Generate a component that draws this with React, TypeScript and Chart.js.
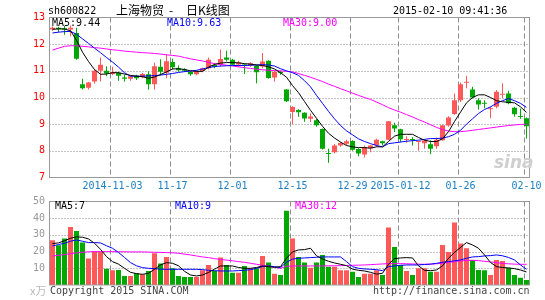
import React, { useEffect, useRef } from 'react';
import { Chart, registerables } from 'chart.js';
Chart.register(...registerables);

const dates: string[] = [
  '2014-10-20','2014-10-21','2014-10-22','2014-10-23','2014-10-24','2014-10-27','2014-10-28','2014-10-29','2014-10-30','2014-10-31',
  '2014-11-03','2014-11-04','2014-11-05','2014-11-06','2014-11-07','2014-11-10','2014-11-11','2014-11-12','2014-11-13','2014-11-14',
  '2014-11-17','2014-11-18','2014-11-19','2014-11-20','2014-11-21','2014-11-24','2014-11-25','2014-11-26','2014-11-27','2014-11-28',
  '2014-12-01','2014-12-02','2014-12-03','2014-12-04','2014-12-05','2014-12-08','2014-12-09','2014-12-10','2014-12-11','2014-12-12',
  '2014-12-15','2014-12-16','2014-12-17','2014-12-18','2014-12-19','2014-12-22','2014-12-23','2014-12-24','2014-12-25','2014-12-26',
  '2014-12-29','2014-12-30','2014-12-31','2015-01-05','2015-01-06','2015-01-07','2015-01-08','2015-01-09','2015-01-12','2015-01-13',
  '2015-01-14','2015-01-15','2015-01-16','2015-01-19','2015-01-20','2015-01-21','2015-01-22','2015-01-23','2015-01-26','2015-01-27',
  '2015-01-28','2015-01-29','2015-01-30','2015-02-02','2015-02-03','2015-02-04','2015-02-05','2015-02-06','2015-02-09','2015-02-10',
];

const tickDates: string[] = ['2014-11-03','2014-11-17','2014-12-01','2014-12-15','2014-12-29','2015-01-12','2015-01-26','2015-02-10'];
const tickTexts: string[] = ['2014-11-03','11-17','12-01','12-15','12-29','2015-01-12','01-26','02-10'];

const open: number[] = [
  12.55,12.62,12.60,12.55,12.42,10.50,10.37,10.60,11.00,11.00,
  10.88,10.93,10.75,10.70,10.82,10.76,10.87,10.50,11.15,10.93,
  11.33,11.10,11.05,10.96,10.87,10.99,11.10,11.22,11.23,11.50,
  11.42,11.24,11.23,11.20,11.19,11.16,11.38,10.75,10.97,10.30,
  9.46,9.53,9.43,9.20,9.15,8.82,7.92,7.95,8.20,8.27,
  8.37,8.07,7.86,8.10,8.22,8.36,8.42,8.96,8.81,8.41,
  8.44,8.33,8.28,8.25,8.17,8.40,8.95,9.38,9.90,10.55,
  10.30,9.90,9.80,9.56,9.65,10.10,10.15,9.62,9.30,9.22,
];
const close: number[] = [
  12.62,12.57,12.55,12.62,11.45,10.35,10.56,11.00,11.23,10.90,
  10.96,10.82,10.70,10.80,10.72,10.88,10.50,11.17,10.97,11.36,
  11.13,11.02,11.00,10.87,10.98,11.10,11.42,11.15,11.44,11.42,
  11.23,11.31,11.20,11.28,10.95,11.35,10.73,10.97,10.92,9.86,
  9.64,9.45,9.21,9.29,8.96,8.08,7.88,8.20,8.29,8.36,
  8.04,7.90,8.14,8.20,8.42,8.28,9.11,8.84,8.43,8.44,
  8.41,8.35,8.39,8.08,8.42,8.96,9.25,9.90,10.50,10.57,
  10.00,9.74,9.77,9.58,10.22,10.12,9.78,9.37,9.27,8.92,
];
const high: number[] = [
  12.66,12.65,12.68,12.70,12.62,10.70,10.58,11.05,11.50,11.17,
  11.15,10.96,10.85,10.83,10.85,10.92,10.98,11.30,11.43,11.62,
  11.45,11.20,11.10,10.98,11.00,11.12,11.50,11.28,11.80,11.75,
  11.45,11.38,11.27,11.32,11.22,11.67,11.40,11.00,11.00,10.32,
  9.67,9.56,9.45,9.40,9.20,8.84,8.08,8.26,8.32,8.42,
  8.40,8.10,8.20,8.22,8.45,8.38,9.12,9.05,8.83,8.55,
  8.52,8.36,8.42,8.40,8.50,8.98,9.30,10.15,10.56,10.82,
  10.40,9.97,9.90,9.65,10.28,10.53,10.25,9.65,9.59,9.25,
];
const low: number[] = [
  12.50,12.45,12.35,12.30,11.42,10.30,10.30,10.52,10.60,10.80,
  10.83,10.63,10.60,10.63,10.66,10.72,10.30,10.30,10.83,10.72,
  11.05,10.97,10.96,10.82,10.83,10.95,11.05,11.10,11.15,11.35,
  11.20,11.14,10.88,11.15,10.53,11.10,10.70,10.60,10.85,9.83,
  9.00,9.28,9.09,9.08,8.90,8.05,7.55,7.90,8.15,8.20,
  8.00,7.80,7.75,7.95,8.15,8.20,8.40,8.71,8.33,8.30,
  8.20,8.00,8.08,7.87,8.08,8.38,8.90,9.35,9.83,10.35,
  9.96,9.55,9.60,9.22,9.60,9.97,9.75,9.28,9.20,8.46,
];

const ma5: number[] = [
  12.56,12.57,12.57,12.50,12.15,11.70,11.35,11.05,10.87,10.88,
  10.93,10.93,10.88,10.83,10.80,10.78,10.72,10.77,10.86,10.96,
  11.07,11.08,11.05,11.00,10.98,10.98,11.14,11.24,11.29,11.31,
  11.31,11.30,11.27,11.25,11.22,11.20,11.15,11.07,10.93,10.76,
  10.45,10.18,9.85,9.52,9.22,8.92,8.66,8.48,8.33,8.20,
  8.15,8.12,8.12,8.10,8.15,8.15,8.35,8.55,8.62,8.62,
  8.62,8.50,8.40,8.35,8.35,8.45,8.72,9.10,9.45,9.80,
  10.00,10.10,10.10,10.00,9.88,9.84,9.82,9.80,9.65,9.44,
];
const ma10: number[] = [
  12.42,12.45,12.47,12.48,12.37,12.20,12.03,11.85,11.68,11.50,
  11.33,11.14,10.93,10.80,10.80,10.80,10.81,10.82,10.84,10.87,
  10.90,10.94,10.97,10.99,11.02,11.07,11.12,11.16,11.18,11.19,
  11.20,11.20,11.20,11.21,11.22,11.23,11.22,11.18,11.08,11.00,
  10.93,10.83,10.63,10.40,10.08,9.78,9.48,9.20,8.95,8.75,
  8.60,8.45,8.35,8.27,8.20,8.15,8.27,8.30,8.33,8.36,
  8.38,8.40,8.43,8.46,8.46,8.48,8.53,8.62,8.77,9.00,
  9.20,9.40,9.55,9.65,9.78,9.88,9.96,9.88,9.78,9.63,
];
const ma30: number[] = [
  11.78,11.85,11.92,11.94,11.94,11.92,11.90,11.87,11.85,11.82,
  11.79,11.77,11.74,11.72,11.70,11.68,11.67,11.65,11.63,11.60,
  11.58,11.55,11.50,11.45,11.41,11.37,11.32,11.27,11.24,11.21,
  11.18,11.15,11.12,11.09,11.06,11.04,11.02,11.01,11.00,10.98,
  10.96,10.90,10.83,10.76,10.68,10.60,10.50,10.42,10.33,10.25,
  10.16,10.08,10.00,9.93,9.83,9.73,9.62,9.53,9.45,9.36,
  9.27,9.17,9.08,8.98,8.88,8.80,8.74,8.72,8.72,8.74,
  8.77,8.80,8.83,8.86,8.89,8.92,8.95,8.97,8.99,9.00,
];

const volume: number[] = [
  26.8,23.8,27.8,34.8,32.4,25.4,15.8,20.0,20.0,9.8,
  8.8,9.0,5.4,5.4,7.0,6.4,8.4,19.0,12.8,16.8,
  10.0,5.4,4.8,4.8,4.8,8.8,12.0,8.4,16.4,12.0,
  7.4,7.4,11.4,10.0,10.0,17.4,13.4,6.8,6.0,44.4,
  27.8,16.8,13.4,10.4,13.4,18.0,11.0,11.0,8.8,8.8,
  8.0,4.8,6.8,6.8,8.8,6.0,34.4,22.8,12.0,8.4,
  6.0,10.0,10.0,8.0,8.0,24.0,19.8,37.4,24.8,22.0,
  15.0,9.0,8.8,6.0,15.0,14.4,10.4,6.0,4.4,3.0,
];
const volMa5: number[] = [
  24.8,25.2,26.5,28.0,28.8,28.6,27.6,25.0,21.4,17.0,
  14.0,12.5,10.0,7.6,6.8,6.4,7.0,9.4,12.0,13.4,
  13.0,11.5,8.2,6.0,5.4,6.0,7.5,9.5,11.4,11.4,
  11.4,10.5,10.0,10.0,10.5,11.4,11.0,10.6,11.0,16.0,
  19.8,21.0,21.2,22.0,17.5,15.6,14.2,13.2,12.4,11.6,
  9.5,8.8,8.4,7.6,6.5,7.0,12.4,15.8,16.2,16.4,
  16.2,11.5,8.8,8.6,9.0,11.5,16.0,19.5,22.5,25.4,
  24.0,22.0,18.0,13.5,11.0,10.5,10.2,9.8,9.0,7.8,
];
const volMa10: number[] = [
  23.4,24.2,25.0,26.2,27.0,26.2,25.4,25.4,25.2,23.5,
  22.0,19.5,16.5,13.4,11.5,10.4,10.0,9.8,9.5,9.4,
  9.4,9.4,9.4,9.4,9.4,9.2,8.8,8.6,8.4,8.4,
  8.4,8.6,8.8,9.2,10.0,11.0,11.4,11.0,10.4,13.6,
  15.5,16.0,16.2,16.4,16.6,16.8,16.8,16.8,16.8,14.0,
  11.0,10.0,9.6,9.4,9.2,8.6,11.0,11.4,11.8,12.0,
  12.0,12.0,12.3,12.5,13.0,13.6,14.0,14.5,15.0,16.0,
  16.8,17.0,17.4,17.6,18.0,17.5,16.5,15.0,12.0,9.4,
];
const volMa30: number[] = [
  17.4,17.8,18.2,18.8,19.2,19.6,19.9,20.0,20.0,20.0,
  20.0,19.9,19.9,19.8,19.8,19.8,19.7,19.6,19.5,19.4,
  19.3,19.0,18.5,18.0,17.4,16.8,16.4,15.8,15.3,14.9,
  14.5,14.0,13.6,13.0,12.4,11.8,11.2,10.6,10.0,11.2,
  11.4,11.4,11.4,11.4,11.4,11.4,11.5,11.5,11.6,11.7,
  11.8,11.9,12.0,12.2,12.4,12.6,12.8,12.8,12.8,12.7,
  12.6,12.5,12.4,12.5,12.7,13.0,13.5,14.0,14.4,14.7,
  14.8,14.6,14.2,13.8,13.4,12.9,12.7,12.5,12.4,12.4,
];

const RED = '#ff5858';
const GREEN = '#00a800';
const DOT = '#8a8a8a';
const DASH = '#8a8a8a';
const MONO = '"DejaVu Sans Mono", "Liberation Mono", monospace';
const CJK = '"Noto Sans CJK SC", "Noto Sans", sans-serif';

// Dotted / dashed grid positioned by the chart's own scales, and a frame round the plot area.
const framePlugin = {
  id: 'frame',
  beforeDatasetsDraw(chart: any) {
    const { ctx, chartArea: a, scales } = chart;
    const xs = scales.x;
    const ys = scales.y;
    ctx.save();
    ctx.lineWidth = 1;
    ctx.strokeStyle = DOT;
    ctx.setLineDash([1, 2]);
    ys.ticks.forEach((t: any) => {
      if (t.value === ys.min || t.value === ys.max) return;
      const py = Math.round(ys.getPixelForValue(t.value)) + 0.5;
      ctx.beginPath();
      ctx.moveTo(a.left, py);
      ctx.lineTo(a.right, py);
      ctx.stroke();
    });
    ctx.strokeStyle = DASH;
    ctx.setLineDash([5, 3]);
    tickDates.forEach((d) => {
      const idx = dates.indexOf(d);
      if (idx < 0) return;
      const px = Math.floor(xs.getPixelForValue(idx)) - 2 + 0.5;
      ctx.beginPath();
      ctx.moveTo(px, a.top);
      ctx.lineTo(px, a.bottom);
      ctx.stroke();
    });
    ctx.restore();
  },
  afterDatasetsDraw(chart: any) {
    const { ctx, chartArea } = chart;
    ctx.save();
    ctx.strokeStyle = '#999999';
    ctx.lineWidth = 1;
    ctx.strokeRect(chartArea.left, chartArea.top, chartArea.right - chartArea.left, chartArea.bottom - chartArea.top);
    ctx.restore();
  },
};

function lineDs(label: string, data: number[], color: string) {
  return { type: 'line' as const, label, data, borderColor: color, borderWidth: 1, pointRadius: 0, tension: 0, fill: false, order: 0 };
}

export default function App() {
  const priceRef = useRef<HTMLCanvasElement>(null);
  const volRef = useRef<HTMLCanvasElement>(null);

  useEffect(() => {
    const colors = open.map((o, i) => (close[i] >= o ? RED : GREEN));
    const c1 = new Chart(priceRef.current as HTMLCanvasElement, {
      type: 'bar',
      data: {
        labels: dates,
        datasets: [
          lineDs('MA5', ma5, '#000000'),
          lineDs('MA10', ma10, '#0000ff'),
          lineDs('MA30', ma30, '#ff00ff'),
          { type: 'bar', label: 'body', data: open.map((o, i) => [o, close[i]]), backgroundColor: colors, borderWidth: 0, barThickness: 5, minBarLength: 1, grouped: false, inflateAmount: 0, order: 1 } as any,
          { type: 'bar', label: 'wick', data: low.map((l, i) => [l, high[i]]), backgroundColor: colors, borderWidth: 0, barThickness: 1, grouped: false, inflateAmount: 0, order: 2 } as any,
        ],
      },
      options: {
        animation: false,
        responsive: false,
        maintainAspectRatio: false,
        layout: { padding: { top: 17.5, right: 15.5, left: 0, bottom: 0 } },
        plugins: { legend: { display: false }, tooltip: { enabled: false } },
        scales: {
          x: {
            offset: true,
            grid: { display: false, drawTicks: false },
            border: { display: false },
            ticks: {
              autoSkip: false, maxRotation: 0, minRotation: 0, padding: 3, color: '#1a7fc4',
              font: { family: MONO, size: 10 },
              callback: (_v: any, i: number) => { const k = tickDates.indexOf(dates[i]); return k >= 0 ? tickTexts[k] : ''; },
            },
            afterFit: (s: any) => { s.height = 17.5; },
          },
          y: {
            min: 7, max: 13,
            ticks: { stepSize: 1, color: '#ff0000', padding: 4.5, font: { family: MONO, size: 10 } },
            grid: { display: false, drawTicks: false },
            border: { display: false },
            afterFit: (s: any) => { s.width = 49.5; },
          },
        },
      },
      plugins: [framePlugin],
    });
    const c2 = new Chart(volRef.current as HTMLCanvasElement, {
      type: 'bar',
      data: {
        labels: dates,
        datasets: [
          lineDs('MA5', volMa5, '#000000'),
          lineDs('MA10', volMa10, '#0000ff'),
          lineDs('MA30', volMa30, '#ff00ff'),
          { type: 'bar', label: 'volume', data: volume, backgroundColor: colors, borderWidth: 0, barThickness: 5, grouped: false, inflateAmount: 0, order: 1 } as any,
        ],
      },
      options: {
        animation: false,
        responsive: false,
        maintainAspectRatio: false,
        layout: { padding: { top: 11.5, right: 15.5, left: 0, bottom: 15 } },
        plugins: { legend: { display: false }, tooltip: { enabled: false } },
        scales: {
          x: { offset: true, grid: { display: false, drawTicks: false }, border: { display: false }, ticks: { display: false }, afterFit: (s: any) => { s.height = 0; } },
          y: {
            min: 0, max: 50,
            ticks: { stepSize: 10, color: '#999999', padding: 4.5, font: { family: MONO, size: 10 }, callback: (v: any) => (v === 0 ? '' : String(v)) },
            grid: { display: false, drawTicks: false },
            border: { display: false },
            afterFit: (s: any) => { s.width = 49.5; },
          },
        },
      },
      plugins: [framePlugin],
    });
    return () => { c1.destroy(); c2.destroy(); };
  }, []);

  const txt = (left: number, top: number, text: string, color = '#000', extra: any = {}) => (
    <div style={{ position: 'absolute', left, top, color, fontFamily: MONO, fontSize: 10, lineHeight: '12px', whiteSpace: 'pre', ...extra }}>{text}</div>
  );

  return (
    <div style={{ position: 'fixed', left: 0, top: 0, width: 545, height: 300, background: '#fff', overflow: 'hidden' }}>
      <canvas ref={priceRef} width={545} height={195} style={{ position: 'absolute', left: 0, top: 0 }} />
      <canvas ref={volRef} width={545} height={110} style={{ position: 'absolute', left: 0, top: 190 }} />

      {txt(48, 5, 'sh600822')}
      {txt(116, 3, '上海物贸', '#000', { fontFamily: CJK, fontSize: 12, lineHeight: '14px' })}
      {txt(169, 3, '-', '#000', { fontFamily: CJK, fontSize: 12, lineHeight: '14px' })}
      {txt(186, 3, '日K线图', '#000', { fontFamily: CJK, fontSize: 12, lineHeight: '14px' })}
      {txt(393, 5, '2015-02-10 09:41:36')}

      {txt(52, 17, 'MA5:9.44', '#000')}
      {txt(167, 17, 'MA10:9.63', '#0000ff')}
      {txt(283, 17, 'MA30:9.00', '#ff00ff')}

      <div
        style={{
          position: 'absolute', left: 494, top: 152, color: '#cfcfcf',
          fontFamily: '"DejaVu Sans", sans-serif', fontSize: 17, fontWeight: 'bold', fontStyle: 'italic', lineHeight: '20px',
        }}
      >
        sina
      </div>

      {txt(55, 200, 'MA5:7', '#000')}
      {txt(175, 200, 'MA10:9', '#0000ff')}
      {txt(295, 200, 'MA30:12', '#ff00ff')}

      {txt(30, 284, 'x万', '#b8b8b8', { fontFamily: CJK, fontSize: 11 })}
      {txt(50, 285, 'Copyright 2015 SINA.COM', '#444')}
      {txt(373, 285, 'http://finance.sina.com.cn', '#444')}
    </div>
  );
}
